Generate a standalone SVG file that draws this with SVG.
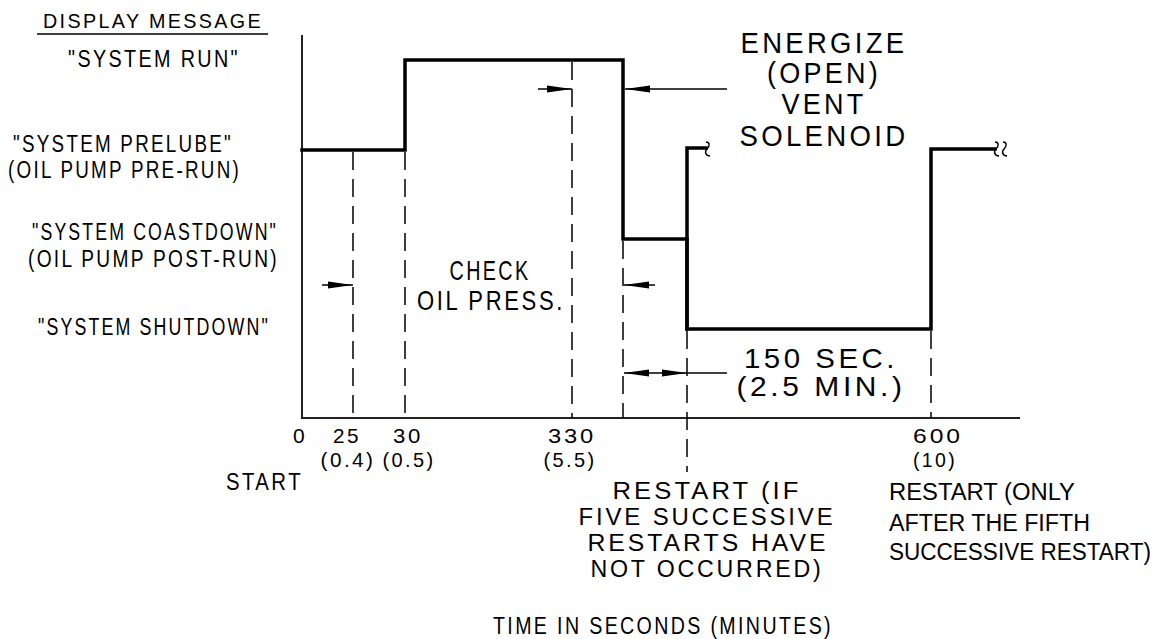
<svg xmlns="http://www.w3.org/2000/svg" width="1166" height="639" viewBox="0 0 1166 639">
<style>
text{font-family:"Liberation Sans",Arial,sans-serif;fill:#000;letter-spacing:0.12em;}
.lbl{font-size:23px;}
.tk{font-size:21px;text-anchor:middle;}
.big{font-size:28px;text-anchor:middle;}
.eng{font-size:29px;text-anchor:middle;}
.mid{text-anchor:middle;}
.tight{letter-spacing:0;}
.axis{stroke:#222;stroke-width:2;fill:none;}
.sig{stroke:#000;stroke-width:3.5;fill:none;stroke-linejoin:miter;stroke-linecap:square;}
.dash{stroke:#000;stroke-width:1.5;fill:none;stroke-dasharray:18 9;}
.thin{stroke:#000;stroke-width:1.5;fill:none;}
.brk{stroke:#000;stroke-width:1.4;fill:none;}
</style>
<defs>
<marker id="ah" markerUnits="userSpaceOnUse" markerWidth="25" markerHeight="8" refX="25" refY="4" orient="auto">
<path d="M0,0.4 L25,4 L0,7.6 z" fill="#000"/>
</marker>
</defs>
<rect width="1166" height="639" fill="#fff"/>

<g id="legend">
<text x="43" y="28" style="font-size:21px" textLength="220" lengthAdjust="spacingAndGlyphs">DISPLAY MESSAGE</text>
<line x1="37" y1="34" x2="268" y2="34" class="thin"/>
<text class="lbl" x="68" y="67" textLength="172" lengthAdjust="spacingAndGlyphs">"SYSTEM RUN"</text>
<text class="lbl" x="13" y="152" textLength="220" lengthAdjust="spacingAndGlyphs">"SYSTEM PRELUBE"</text>
<text class="lbl" x="8" y="178" textLength="233" lengthAdjust="spacingAndGlyphs">(OIL PUMP PRE-RUN)</text>
<text class="lbl" x="32" y="240" textLength="246" lengthAdjust="spacingAndGlyphs">"SYSTEM COASTDOWN"</text>
<text class="lbl" x="28" y="267" textLength="251" lengthAdjust="spacingAndGlyphs">(OIL PUMP POST-RUN)</text>
<text class="lbl" x="38" y="335" textLength="232" lengthAdjust="spacingAndGlyphs">"SYSTEM SHUTDOWN"</text>
</g>

<g id="axes">
<line x1="302" y1="35" x2="302" y2="419" class="axis"/>
<line x1="301" y1="418" x2="1020" y2="418" class="axis"/>
</g>

<g id="guides">
<line x1="353" y1="152" x2="353" y2="418" class="dash"/>
<line x1="405" y1="152" x2="405" y2="418" class="dash"/>
<line x1="572" y1="62" x2="572" y2="418" class="dash"/>
<line x1="623" y1="241" x2="623" y2="418" class="dash"/>
<line x1="687" y1="331" x2="687" y2="472" class="dash"/>
<line x1="931" y1="331" x2="931" y2="418" class="dash"/>
</g>

<g id="signal">
<path class="sig" d="M302,150 H405 V60 H623 V239 H687 V329 H931 V149 H995"/>
<path class="sig" d="M687,329 V148 H706"/>
<path class="brk" d="M706,142 C710,142 710,146 707,149 C704,152 706,156 710,156"/>
<path class="brk" d="M995,142 C999,142 999,146 996,149 C993,152 995,156 999,156"/>
<path class="brk" d="M1003,142 C1007,142 1007,146 1004,149 C1001,152 1003,156 1007,156"/>
</g>

<g id="connectors">
<line x1="538" y1="89" x2="572" y2="89" class="thin" marker-end="url(#ah)"/>
<line x1="727" y1="89" x2="625" y2="89" class="thin" marker-end="url(#ah)"/>
<line x1="322" y1="285" x2="353" y2="285" class="thin" marker-end="url(#ah)"/>
<line x1="655" y1="285" x2="624" y2="285" class="thin" marker-end="url(#ah)"/>
<line x1="655" y1="373" x2="624" y2="373" class="thin" marker-end="url(#ah)"/>
<line x1="655" y1="373" x2="687" y2="373" class="thin" marker-end="url(#ah)"/>
<line x1="687" y1="373" x2="727" y2="373" class="thin"/>
</g>

<g id="energize-label">
<text class="eng" x="824" y="53" textLength="167" lengthAdjust="spacingAndGlyphs">ENERGIZE</text>
<text class="eng" x="824" y="83" textLength="114" lengthAdjust="spacingAndGlyphs">(OPEN)</text>
<text class="eng" x="824" y="114" textLength="85" lengthAdjust="spacingAndGlyphs">VENT</text>
<text class="eng" x="824" y="146" textLength="169" lengthAdjust="spacingAndGlyphs">SOLENOID</text>
</g>

<g id="check-label">
<text class="big" x="490" y="280" textLength="81" lengthAdjust="spacingAndGlyphs">CHECK</text>
<text class="big" x="491" y="310" textLength="148" lengthAdjust="spacingAndGlyphs">OIL PRESS.</text>
</g>

<g id="duration-label">
<text class="big" x="821" y="368" textLength="154" lengthAdjust="spacingAndGlyphs">150 SEC.</text>
<text class="big" x="821" y="396" textLength="169" lengthAdjust="spacingAndGlyphs">(2.5 MIN.)</text>
</g>

<g id="ticks">
<text class="tk" x="300" y="443">0</text>
<text class="tk" x="347" y="443" textLength="28" lengthAdjust="spacingAndGlyphs">25</text>
<text class="tk" x="408" y="443" textLength="30" lengthAdjust="spacingAndGlyphs">30</text>
<text class="tk" x="572" y="443" textLength="48" lengthAdjust="spacingAndGlyphs">330</text>
<text class="tk" x="938" y="443" textLength="50" lengthAdjust="spacingAndGlyphs">600</text>
<text class="tk" x="348" y="467" textLength="55" lengthAdjust="spacingAndGlyphs">(0.4)</text>
<text class="tk" x="409" y="467" textLength="53" lengthAdjust="spacingAndGlyphs">(0.5)</text>
<text class="tk" x="570" y="467" textLength="53" lengthAdjust="spacingAndGlyphs">(5.5)</text>
<text class="tk" x="935" y="467" textLength="44" lengthAdjust="spacingAndGlyphs">(10)</text>
<text class="lbl" x="226" y="490" textLength="77" lengthAdjust="spacingAndGlyphs">START</text>
</g>

<g id="restart-label">
<text class="lbl mid" x="707" y="499" textLength="189" lengthAdjust="spacingAndGlyphs">RESTART (IF</text>
<text class="lbl mid" x="707" y="525" textLength="257" lengthAdjust="spacingAndGlyphs">FIVE SUCCESSIVE</text>
<text class="lbl mid" x="708" y="551" textLength="241" lengthAdjust="spacingAndGlyphs">RESTARTS HAVE</text>
<text class="lbl mid" x="707" y="577" textLength="233" lengthAdjust="spacingAndGlyphs">NOT OCCURRED)</text>
</g>

<g id="restart-only-label">
<text class="lbl tight" x="889" y="500" textLength="186" lengthAdjust="spacingAndGlyphs">RESTART (ONLY</text>
<text class="lbl tight" x="889" y="531" textLength="201" lengthAdjust="spacingAndGlyphs">AFTER THE FIFTH</text>
<text class="lbl tight" x="889" y="560" textLength="262" lengthAdjust="spacingAndGlyphs">SUCCESSIVE RESTART)</text>
</g>

<g id="axis-title">
<text class="lbl" x="493" y="634" textLength="340" lengthAdjust="spacingAndGlyphs">TIME IN SECONDS (MINUTES)</text>
</g>
</svg>
